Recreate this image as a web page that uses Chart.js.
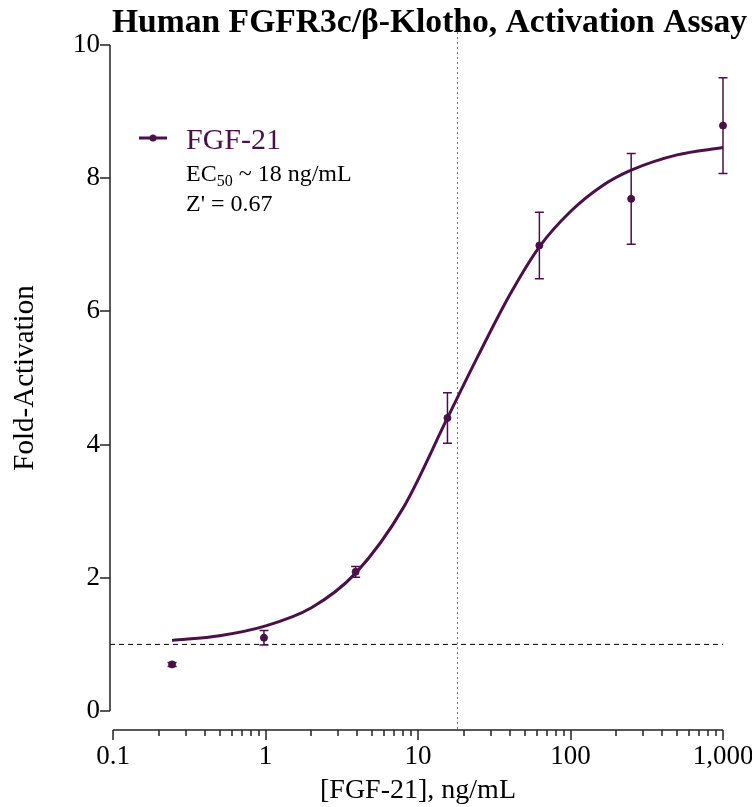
<!DOCTYPE html>
<html>
<head>
<meta charset="utf-8">
<script src="https://cdn.jsdelivr.net/npm/chart.js@4.4.1/dist/chart.umd.min.js"></script>
<style>
  html, body { margin: 0; padding: 0; background: #fff; }
  canvas { display: block; }
</style>
</head>
<body>
<canvas id="chart" width="752" height="807"></canvas>
<script>
// measured points (mean +/- error)
const concentrations = [0.244, 0.977, 3.9, 15.6, 62.5, 250, 1000];
const foldMean = [0.70, 1.10, 2.09, 4.40, 6.99, 7.69, 8.79];
const foldErr = [0.03, 0.11, 0.08, 0.38, 0.50, 0.68, 0.72];

// fitted curve
const fitConc = [0.244, 0.5, 0.977, 2, 3.9, 8, 15.6, 25, 40, 62.5, 100, 160, 250, 500, 1000];
const fitFold = [1.06, 1.13, 1.27, 1.55, 2.07, 3.05, 4.40, 5.35, 6.25, 6.97, 7.50, 7.88, 8.12, 8.35, 8.46];

const xTicks = [0.1, 1, 10, 100, 1000];
const xTickLabels = ['0.1', '1', '10', '100', '1,000'];
const yTicks = [0, 2, 4, 6, 8, 10];

const baseline = 1;
const ec50 = 18;

const PURPLE = '#4a1047';
const SERIF = "'Liberation Serif', 'Times New Roman', serif";

// axes, reference lines, error bars, legend and title
const decorPlugin = {
  id: 'decor',
  beforeDatasetsDraw(chart) {
    const ctx = chart.ctx;
    const x = chart.scales.x, y = chart.scales.y;
    const axisY = chart.chartArea.bottom + 19;
    ctx.save();
    // dashed line at 1-fold
    ctx.strokeStyle = '#000';
    ctx.lineWidth = 1;
    ctx.setLineDash([5, 4]);
    ctx.beginPath();
    ctx.moveTo(x.getPixelForValue(0.1) - 3, y.getPixelForValue(baseline));
    ctx.lineTo(x.getPixelForValue(1000), y.getPixelForValue(baseline));
    ctx.stroke();
    // dotted line at EC50
    ctx.strokeStyle = '#777';
    ctx.setLineDash([2, 3]);
    const ex = Math.round(x.getPixelForValue(ec50)) + 0.5;
    ctx.beginPath();
    ctx.moveTo(ex, chart.chartArea.top - 28);
    ctx.lineTo(ex, axisY);
    ctx.stroke();
    ctx.restore();
  },
  afterDatasetsDraw(chart) {
    const ctx = chart.ctx;
    const x = chart.scales.x, y = chart.scales.y;
    ctx.save();
    ctx.strokeStyle = PURPLE;
    ctx.lineWidth = 1.5;
    concentrations.forEach((c, i) => {
      const px = x.getPixelForValue(c);
      const top = y.getPixelForValue(foldMean[i] + foldErr[i]);
      const bot = y.getPixelForValue(foldMean[i] - foldErr[i]);
      ctx.beginPath();
      ctx.moveTo(px, top); ctx.lineTo(px, bot);
      ctx.moveTo(px - 4.5, top); ctx.lineTo(px + 4.5, top);
      ctx.moveTo(px - 4.5, bot); ctx.lineTo(px + 4.5, bot);
      ctx.stroke();
    });
    ctx.restore();
  },
  afterDraw(chart) {
    const ctx = chart.ctx;
    const x = chart.scales.x, y = chart.scales.y;
    const area = chart.chartArea;
    const axisY = area.bottom + 19;
    const axisX = area.left - 3;
    ctx.save();
    ctx.strokeStyle = '#222';
    ctx.lineWidth = 1.5;
    ctx.setLineDash([]);
    // y axis
    ctx.beginPath();
    ctx.moveTo(axisX, y.getPixelForValue(0));
    ctx.lineTo(axisX, y.getPixelForValue(10));
    yTicks.forEach(v => {
      const py = Math.round(y.getPixelForValue(v));
      ctx.moveTo(axisX - 10, py);
      ctx.lineTo(axisX, py);
    });
    // x axis
    ctx.moveTo(x.getPixelForValue(0.1), axisY);
    ctx.lineTo(x.getPixelForValue(1000), axisY);
    for (let d = 0.1; d < 1000; d *= 10) {
      for (let k = 1; k <= 10; k++) {
        const v = d * k;
        const px = Math.round(x.getPixelForValue(v));
        const len = (k === 1 || k === 10) ? 10 : 6;
        ctx.moveTo(px, axisY);
        ctx.lineTo(px, axisY + len);
      }
    }
    ctx.stroke();

    // title
    ctx.fillStyle = '#000';
    ctx.font = 'bold 33.6px ' + SERIF;
    ctx.textBaseline = 'alphabetic';
    ctx.textAlign = 'left';
    ctx.fillText('Human FGFR3c/\u03b2-Klotho, Activation Assay', 112, 32);

    // legend
    ctx.strokeStyle = PURPLE;
    ctx.lineWidth = 3;
    ctx.beginPath();
    ctx.moveTo(139, 138);
    ctx.lineTo(167, 138);
    ctx.stroke();
    ctx.fillStyle = PURPLE;
    ctx.beginPath();
    ctx.arc(153, 138, 3.5, 0, Math.PI * 2);
    ctx.fill();
    ctx.font = '30px ' + SERIF;
    ctx.fillText('FGF-21', 186, 149);

    ctx.fillStyle = '#000';
    ctx.font = '24px ' + SERIF;
    ctx.fillText('EC', 186, 181);
    let w = ctx.measureText('EC').width;
    ctx.font = '16px ' + SERIF;
    ctx.fillText('50', 186 + w, 186);
    w += ctx.measureText('50').width;
    ctx.font = '24px ' + SERIF;
    ctx.fillText(' ~ 18 ng/mL', 186 + w, 181);
    ctx.fillText("Z' = 0.67", 186, 211);
    ctx.restore();
  }
};

new Chart(document.getElementById('chart'), {
  data: {
    datasets: [{
      type: 'line',
      label: 'fit',
      data: fitConc.map((c, i) => ({ x: c, y: fitFold[i] })),
      borderColor: PURPLE,
      borderWidth: 3,
      pointRadius: 0,
      cubicInterpolationMode: 'monotone',
      fill: false
    }, {
      type: 'scatter',
      label: 'FGF-21',
      data: concentrations.map((c, i) => ({ x: c, y: foldMean[i] })),
      backgroundColor: PURPLE,
      borderColor: PURPLE,
      pointRadius: 3.5,
      clip: false
    }]
  },
  options: {
    responsive: false,
    animation: false,
    layout: { padding: { left: 0, right: 29, top: 45, bottom: 0 } },
    plugins: {
      legend: { display: false },
      tooltip: { enabled: false }
    },
    scales: {
      x: {
        type: 'logarithmic',
        min: 0.1,
        max: 1000,
        afterBuildTicks: s => { s.ticks = xTicks.map(v => ({ value: v, major: true })); },
        afterFit: s => { s.height = 96; s.paddingLeft = 0; s.paddingRight = 0; },
        grid: { display: false, drawTicks: false },
        border: { display: false },
        ticks: {
          autoSkip: false,
          maxRotation: 0,
          padding: 30,
          color: '#000',
          font: { family: SERIF, size: 27 },
          callback: (v, i) => xTickLabels[i]
        },
        title: {
          display: true,
          text: '[FGF-21], ng/mL',
          color: '#000',
          font: { family: SERIF, size: 28 },
          padding: { top: 0, bottom: 0 }
        }
      },
      y: {
        min: 0,
        max: 10,
        afterBuildTicks: s => { s.ticks = yTicks.map(v => ({ value: v })); },
        afterFit: s => { s.width = 113; },
        grid: { display: false, drawTicks: false },
        border: { display: false },
        ticks: {
          padding: 13,
          color: '#000',
          font: { family: SERIF, size: 27 }
        },
        title: {
          display: true,
          text: 'Fold-Activation',
          color: '#000',
          font: { family: SERIF, size: 29 },
          padding: { top: 8, bottom: 0 }
        }
      }
    }
  },
  plugins: [decorPlugin]
});
</script>
</body>
</html>
